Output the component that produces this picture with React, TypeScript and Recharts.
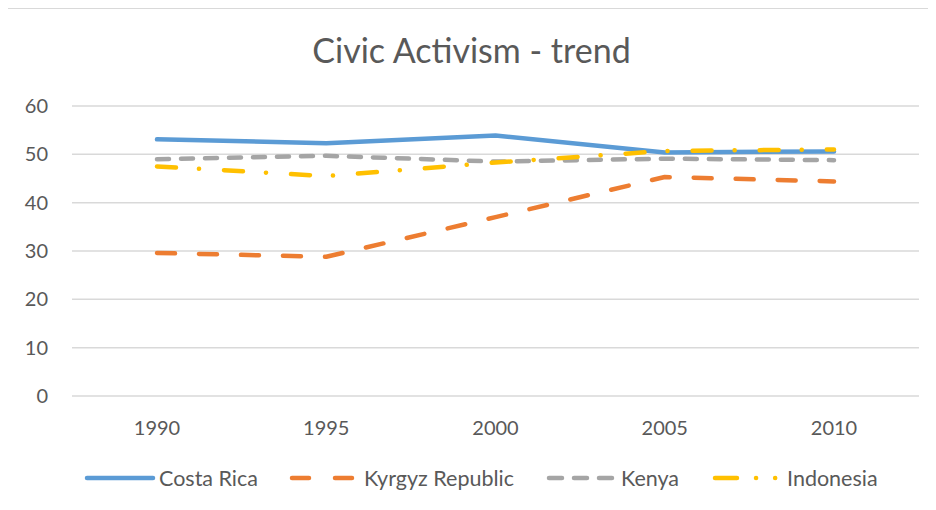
import { LineChart, Line, XAxis, YAxis, CartesianGrid, Legend } from "recharts";

const years = ["1990", "1995", "2000", "2005", "2010"];
const costaRica = [53.1, 52.3, 53.9, 50.4, 50.6];
const kyrgyz = [29.6, 28.8, 37.0, 45.3, 44.4];
const kenya = [49.0, 49.7, 48.5, 49.1, 48.8];
const indonesia = [47.5, 45.5, 48.3, 50.7, 51.0];
const yTicks = [0, 10, 20, 30, 40, 50, 60];

const data = years.map((year, i) => ({
  year,
  costaRica: costaRica[i],
  kyrgyz: kyrgyz[i],
  kenya: kenya[i],
  indonesia: indonesia[i],
}));

const FONT = "Lato, 'Open Sans', sans-serif";
const TEXT = "#595959";

const series = [
  { key: "costaRica", name: "Costa Rica", color: "#5B9BD5", dash: undefined, icon: undefined, gap: 31 },
  { key: "kyrgyz", name: "Kyrgyz Republic", color: "#ED7D31", dash: "18 24", icon: "17 26", gap: 32 },
  { key: "kenya", name: "Kenya", color: "#A5A5A5", dash: "12 12", icon: "13 12", gap: 33 },
  { key: "indonesia", name: "Indonesia", color: "#FFC000", dash: "19 23 0.1 25", icon: "22 19 0.1 19 0.1 100", gap: 0 },
];

function LegendContent() {
  return (
    <div style={{ display: "flex", alignItems: "center", fontFamily: FONT, fontSize: 21.5, color: TEXT, paddingLeft: 77 }}>
      {series.map((s) => (
        <div key={s.key} style={{ display: "flex", alignItems: "center", marginRight: s.gap }}>
          <svg width={72} height={12} style={{ marginRight: 3 }}>
            <line x1={3} y1={6} x2={69} y2={6} stroke={s.color} strokeWidth={4.5} strokeLinecap="round" strokeDasharray={s.icon} />
          </svg>
          <span>{s.name}</span>
        </div>
      ))}
    </div>
  );
}

export default function App() {
  return (
    <div style={{ marginLeft: -2, borderLeft: "1px solid #d9d9d9", borderTop: "1px solid #d9d9d9", width: 929, height: 501, position: "relative", background: "#fff" }}>
      <div style={{ position: "absolute", top: 20, left: 0, width: 929, textAlign: "center", fontFamily: FONT, fontSize: 34, color: TEXT }}>
        Civic Activism - trend
      </div>
      <LineChart width={929} height={500} data={data} margin={{ top: 97, right: 17, left: 0, bottom: 14 }}>
        <CartesianGrid stroke="#d9d9d9" strokeWidth={1.5} vertical={false} />
        <XAxis dataKey="year" axisLine={false} tickLine={false} height={69} tickMargin={19}
          padding={{ left: 85, right: 85 }}
          tick={{ fill: TEXT, fontSize: 20, fontFamily: FONT }} />
        <YAxis domain={[0, 60]} ticks={yTicks} axisLine={false} tickLine={false} width={65} tickMargin={18}
          tick={{ fill: TEXT, fontSize: 20, fontFamily: FONT }} />
        <Legend verticalAlign="bottom" height={30} content={() => <LegendContent />} />
        {series.map((s) => (
          <Line key={s.key} type="linear" dataKey={s.key} name={s.name} stroke={s.color} strokeWidth={4.5}
            strokeDasharray={s.dash} strokeLinecap="round" strokeLinejoin="round" dot={false} isAnimationActive={false} />
        ))}
      </LineChart>
    </div>
  );
}
